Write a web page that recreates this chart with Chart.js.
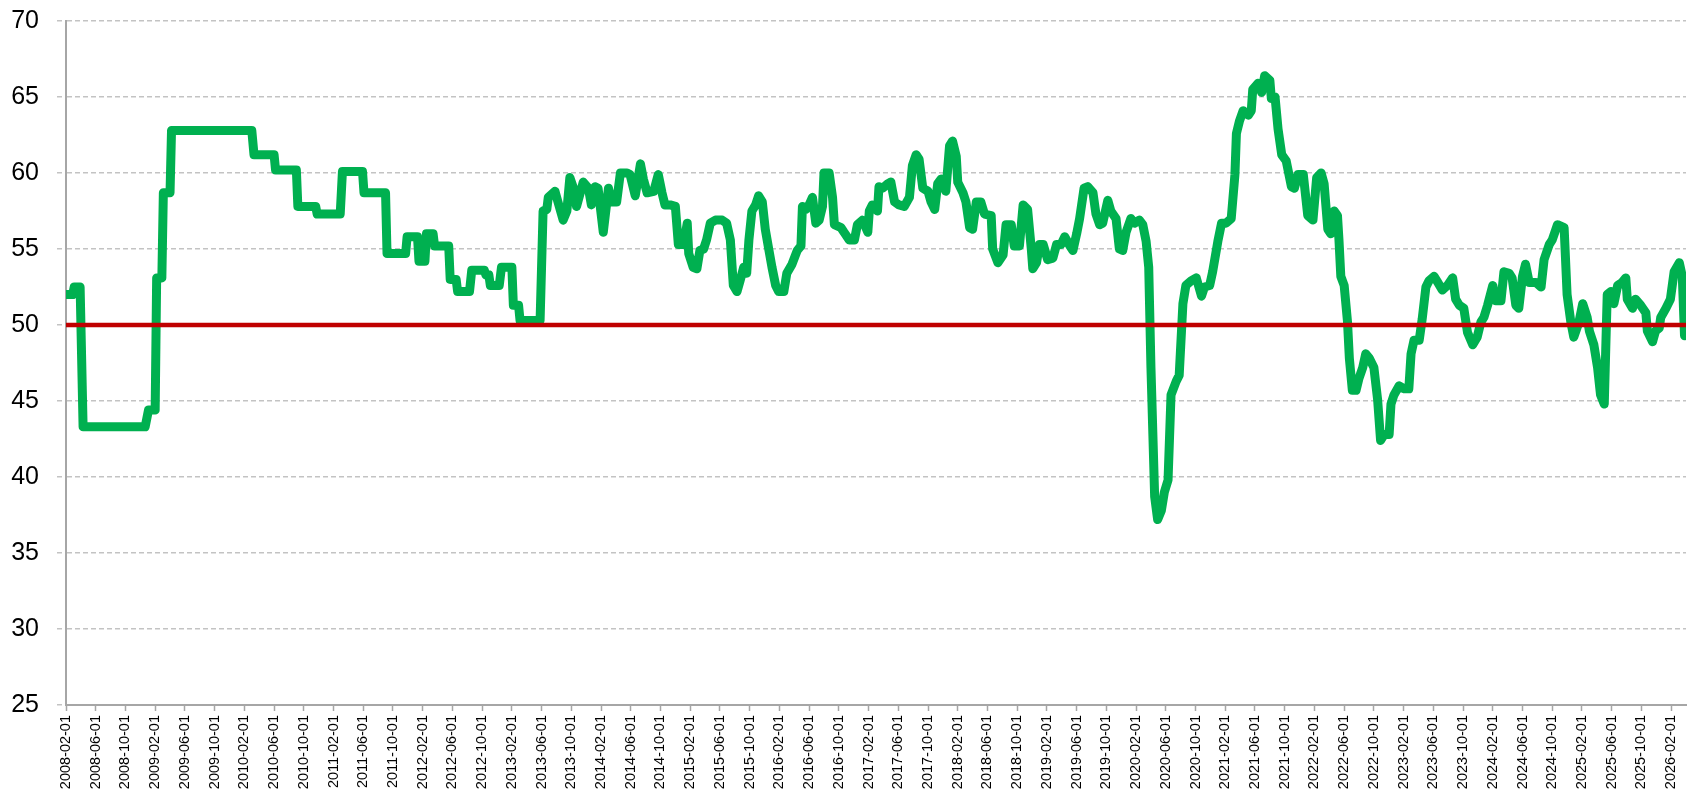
<!DOCTYPE html>
<html>
<head>
<meta charset="utf-8">
<script src="https://cdn.jsdelivr.net/npm/chart.js@4.4.1/dist/chart.umd.min.js"></script>
<style>
  html, body { margin: 0; padding: 0; background: #ffffff; }
  #wrap { width: 1690px; height: 793px; }
</style>
</head>
<body>
<div id="wrap"><canvas id="c" width="1690" height="793"></canvas></div>
<script>
// ---- Tick labels (every 4 months) ----
const tickLabels = [
  "2008-02-01","2008-06-01","2008-10-01","2009-02-01","2009-06-01","2009-10-01",
  "2010-02-01","2010-06-01","2010-10-01","2011-02-01","2011-06-01","2011-10-01",
  "2012-02-01","2012-06-01","2012-10-01","2013-02-01","2013-06-01","2013-10-01",
  "2014-02-01","2014-06-01","2014-10-01","2015-02-01","2015-06-01","2015-10-01",
  "2016-02-01","2016-06-01","2016-10-01","2017-02-01","2017-06-01","2017-10-01",
  "2018-02-01","2018-06-01","2018-10-01","2019-02-01","2019-06-01","2019-10-01",
  "2020-02-01","2020-06-01","2020-10-01","2021-02-01","2021-06-01","2021-10-01",
  "2022-02-01","2022-06-01","2022-10-01","2023-02-01","2023-06-01","2023-10-01",
  "2024-02-01","2024-06-01","2024-10-01","2025-02-01","2025-06-01","2025-10-01",
  "2026-02-01"
];
const monthsPerTick = 4;
const axisMaxMonths = 218;   // months since 2008-02-01 at the right edge

// ---- Series: time in months since 2008-02-01, value of the index ----
const era1Months = [0,0.9,1.1,1.9,2.3,10.65,11.1,12.0,12.2,12.9,13.1,14.0,14.2,25.0,25.3,28.0,28.2,31.0,31.2,33.6,
  33.8,36.9,37.2,39.9,40.1,43.0,43.2,45.7,45.9,47.3,47.5,48.3,48.5,49.4,49.6,51.5,51.7,52.5,52.7,54.3,
  54.6,56.3,56.5,56.9,57.1,58.3,58.6,60.0,60.2,60.9,61.1,63.8];
const era1Values = [52.0,52.0,52.5,52.5,43.3,43.3,44.4,44.4,53.1,53.1,58.7,58.7,62.8,62.8,61.2,61.2,60.2,60.2,57.8,57.8,
  57.3,57.3,60.1,60.1,58.7,58.7,54.7,54.7,55.8,55.8,54.2,54.2,56.0,56.0,55.2,55.2,53.0,53.0,52.2,52.2,
  53.6,53.6,53.3,53.3,52.6,52.6,53.8,53.8,51.3,51.3,50.3,50.3];

const era2Months = [64.2,64.7,64.9,65.8,66.2,66.9,67.4,67.8,68.3,68.7,
  69.6,70.3,70.7,71.2,71.6,72.3,73.0,73.4,74.1,74.6,
  75.5,75.9,76.6,77.3,77.7,78.2,79.1,79.7,80.2,80.6,
  81.3,82.0,82.4,83.1,83.6,83.8,84.4,84.9,85.3,85.8,
  86.2,86.7,87.4,88.3,88.9,89.4,89.8,90.3,90.7,91.2,
  91.6,91.9,92.3,92.8,93.2,93.7,94.1,94.6,95.0,95.5,
  95.9,96.6,97.0,97.7,98.4,98.9];
const era2Values = [57.5,57.6,58.4,58.8,58.1,56.9,57.5,59.7,59.0,57.8,
  59.4,59.0,57.9,59.1,59.0,56.1,59.0,58.1,58.1,60.0,
  60.0,59.9,58.5,60.6,59.6,58.7,58.8,59.9,58.7,57.9,
  57.9,57.8,55.3,55.3,56.7,54.7,53.8,53.7,54.9,55.0,
  55.6,56.7,56.9,56.9,56.7,55.6,52.6,52.2,52.9,53.8,
  53.4,55.6,57.5,57.9,58.5,58.1,56.3,54.9,53.8,52.6,
  52.2,52.2,53.4,54.0,54.9,55.2];

const era3Months = [99.1,99.55,100.0,100.45,100.9,101.35,101.8,102.0,102.7,103.15,
  103.4,104.3,104.7,105.4,106.1,106.5,107.2,107.9,108.1,108.5,
  109.2,109.4,109.9,110.6,111.0,111.5,112.1,112.8,113.5,113.9,
  114.4,114.8,115.3,116.0,116.4,116.9,117.3,117.75,118.4,118.9,
  119.3,119.8,120.0,120.7,121.1,121.6,122.0,122.5,123.1,123.6,
  124.5,124.7,125.4,126.1,126.5,127.2,127.6,128.3,128.8,129.4,
  129.9,130.1,130.6,131.0,131.5,132.1,132.8,133.3,133.9,134.4,
  135.1,135.5,136.0];
const era3Values = [57.8,57.6,57.9,58.4,56.7,56.9,57.8,60.0,60.0,58.4,
  56.6,56.4,56.1,55.6,55.6,56.6,56.9,56.1,57.5,57.9,
  57.5,59.1,59.0,59.3,59.4,58.1,57.9,57.8,58.4,60.5,
  61.2,60.9,59.0,58.8,58.1,57.6,59.3,59.6,58.8,61.8,
  62.1,61.1,59.4,58.7,58.1,56.4,56.3,58.1,58.1,57.3,
  57.2,55.0,54.1,54.6,56.6,56.6,55.2,55.2,57.9,57.6,
  55.0,53.7,54.1,55.3,55.3,54.3,54.4,55.3,55.3,55.8,
  55.2,54.9,56.0];

const era4Months = [136.4,137.0,137.5,138.2,138.6,139.1,139.5,140.2,140.6,141.3,
  141.75,142.2,142.65,143.3,143.8,144.45,144.9,145.35,145.7,146.0,
  146.5,146.9,147.4,147.8,148.3,148.7,149.4,149.8,150.3,150.7,
  151.4,152.1,152.8,153.2,153.9,154.3,155.0,155.5,156.1,156.8,
  157.3,157.5,157.9,158.4,159.1,159.5,159.7,160.4,160.9,161.3,
  162.0,162.2,162.7,163.1,163.6,164.2,164.9,165.3,165.8,166.5,
  167.1,167.8,168.3];
const era4Values = [57.0,59.0,59.1,58.7,57.3,56.6,56.7,58.2,57.5,57.0,
  55.0,54.9,56.1,57.0,56.7,56.9,56.6,55.5,53.8,47.2,
  38.7,37.2,37.8,39.0,39.8,45.4,46.3,46.7,51.4,52.6,
  52.9,53.1,51.9,52.5,52.6,53.5,55.5,56.7,56.7,57.0,
  59.9,62.6,63.4,64.1,63.8,64.1,65.5,65.9,65.3,66.4,
  66.1,64.9,65.0,62.9,61.2,60.8,59.1,59.0,59.9,59.9,
  57.2,56.9,59.7];

const era5Months = [168.9,169.3,169.8,170.2,170.65,171.1,171.3,171.55,172.0,172.45,
  172.7,173.1,173.6,174.0,174.5,174.9,175.4,176.0,176.5,176.9,
  177.4,178.05,178.3,178.7,179.4,180.1,180.7,181.0,181.4,182.1,
  182.5,183.0,183.4,184.1,184.6,185.2,185.9,186.6,187.0,187.5,
  188.1,188.6,189.3,189.9,190.4,190.8,191.3,192.0,192.4,193.1,
  193.5,194.2,194.6,195.1,195.5,196.0,196.4,196.9,197.8,198.5,
  198.9,199.6,200.0,200.7,201.6,202.0,202.5,202.9,203.6,204.1,
  204.7,205.0,205.6,206.1,206.5,207.0,207.2,207.4,207.9,208.3,
  208.8,209.4,209.9,210.1,210.8,211.2,211.9,212.6,212.8,213.5,
  213.9,214.4,214.6,215.3,215.9,216.4,217.1,217.5,217.8];
const era5Values = [60.0,59.3,56.3,56.0,57.5,57.2,55.6,53.2,52.6,50.2,
  47.8,45.7,45.7,46.5,47.2,48.1,47.8,47.2,45.1,42.4,
  42.8,42.8,44.8,45.4,46.0,45.8,45.8,48.1,49.0,49.0,
  50.4,52.5,52.9,53.2,52.8,52.3,52.6,53.1,51.7,51.3,
  51.1,49.5,48.7,49.2,50.2,50.5,51.3,52.6,51.6,51.6,
  53.5,53.4,53.1,51.3,51.1,53.2,54.0,52.8,52.8,52.5,
  54.3,55.3,55.6,56.6,56.4,52.0,50.2,49.2,50.2,51.4,
  50.5,49.6,48.7,47.2,45.4,44.8,48.4,52.0,52.2,51.4,
  52.6,52.8,53.1,51.7,51.1,51.7,51.3,50.8,49.6,48.9,
  49.6,49.8,50.5,51.1,51.7,53.5,54.1,53.2,49.3];

const thresholdMonths = [0, 218];
const thresholdValues = [50, 50];

// ---- Build datasets ----
const allMonths = [].concat(era1Months, era2Months, era3Months, era4Months, era5Months);
const allValues = [].concat(era1Values, era2Values, era3Values, era4Values, era5Values);
const seriesPoints = allMonths.map((m, i) => ({ x: m, y: allValues[i] }));
const thresholdPoints = thresholdMonths.map((m, i) => ({ x: m, y: thresholdValues[i] }));

const FONT = "'Liberation Sans', 'DejaVu Sans', sans-serif";
const axisGray = '#a6a6a6';
const gridGray = '#c3c3c3';

new Chart(document.getElementById('c'), {
  type: 'line',
  data: {
    datasets: [
      {
        label: '50',
        data: thresholdPoints,
        borderColor: '#C00000',
        borderWidth: 4.5,
        pointRadius: 0,
        order: 0
      },
      {
        label: 'Index',
        data: seriesPoints,
        borderColor: '#00B050',
        borderWidth: 9,
        pointRadius: 0,
        borderJoinStyle: 'round',
        borderCapStyle: 'round',
        tension: 0,
        order: 1
      }
    ]
  },
  options: {
    responsive: false,
    animation: false,
    devicePixelRatio: 1,
    layout: { padding: { top: 21, right: 4, left: 0, bottom: 0 } },
    plugins: { legend: { display: false }, tooltip: { enabled: false } },
    scales: {
      x: {
        type: 'linear',
        min: 0,
        max: axisMaxMonths,
        afterBuildTicks: (scale) => {
          scale.ticks = tickLabels.map((_, i) => ({ value: i * monthsPerTick }));
        },
        afterFit: (scale) => {
          scale.height = 88;
          scale.paddingLeft = 0; scale.paddingRight = 0;
        },
        ticks: {
          autoSkip: false,
          minRotation: 90,
          maxRotation: 90,
          padding: 4,
          color: '#000000',
          font: { family: FONT, size: 14.5 },
          callback: (v) => tickLabels[Math.round(v / monthsPerTick)]
        },
        grid: {
          drawOnChartArea: false,
          drawTicks: true,
          tickLength: 6,
          tickColor: axisGray,
          tickWidth: 1.5
        },
        border: { display: true, color: axisGray, width: 2 }
      },
      y: {
        min: 25,
        max: 70,
        afterFit: (scale) => {
          scale.width = 66;
          scale.paddingTop = 0; scale.paddingBottom = 0;
        },
        ticks: {
          stepSize: 5,
          padding: 18,
          color: '#000000',
          font: { family: FONT, size: 25 }
        },
        grid: {
          color: gridGray,
          lineWidth: 1.5,
          drawTicks: true,
          tickLength: 9,
          tickColor: gridGray,
          tickBorderDash: [5, 3],
          borderDash: [5, 3]
        },
        border: { display: true, color: axisGray, width: 2, dash: [5, 3] }
      }
    }
  }
});
</script>
</body>
</html>
